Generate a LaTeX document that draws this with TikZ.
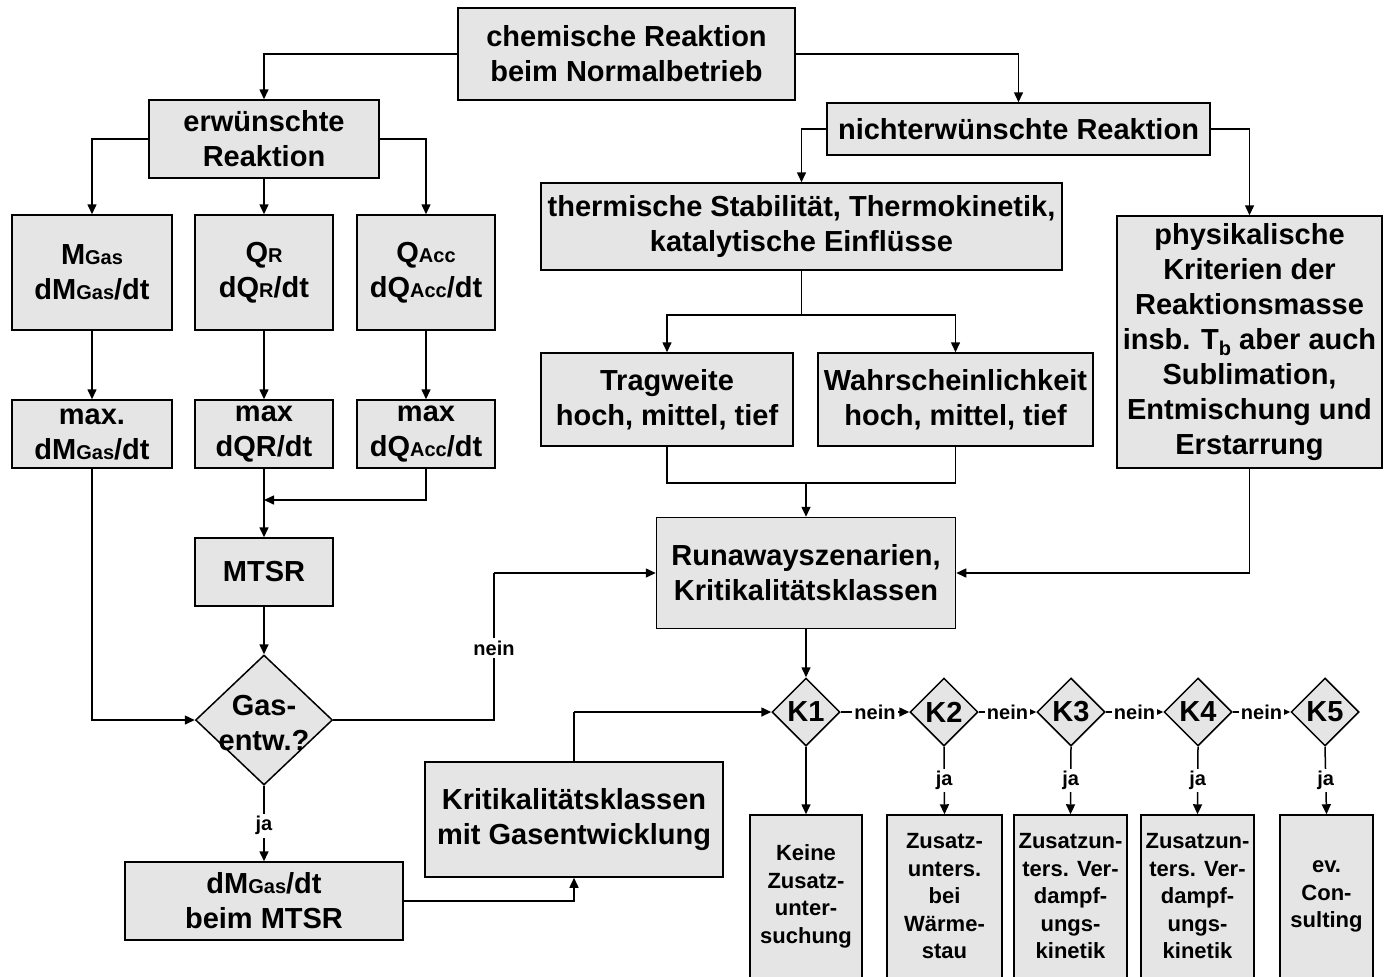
\documentclass[tikz,border=0pt]{standalone}
\usepackage{fontspec}
\setmainfont{Liberation Sans}
\usetikzlibrary{shapes.geometric,arrows.meta,calc}
\definecolor{boxgray}{RGB}{229,229,229}
\newcommand{\sm}[1]{{\fontsize{10}{12}\selectfont #1}}
\begin{document}
\begin{tikzpicture}[x=0.5pt,y=-0.5pt,
  wh/.style n args={2}{minimum width=#1*0.5pt,minimum height=#2*0.5pt},
  box/.style={draw=black,line width=0.75pt,fill=boxgray,align=center,inner sep=0pt,
    font=\bfseries\fontsize{14.5}{17.5}\selectfont},
  smallbox/.style={box,font=\bfseries\fontsize{11}{13.75}\selectfont},
  dia/.style={diamond,draw=black,line width=0.75pt,fill=boxgray,inner sep=0pt,align=center,
    font=\bfseries\fontsize{14.5}{17.5}\selectfont},
  txt/.style={align=center,inner sep=0pt,font=\bfseries\fontsize{14.5}{17.5}\selectfont},
  lbl/.style={fill=white,inner sep=1.2pt,font=\bfseries\fontsize{10}{11}\selectfont},
  conn/.style={line width=0.75pt},
  arr/.style={conn,-{Triangle[length=5pt,width=4.5pt]}}]
\useasboundingbox (0,0) rectangle (1390,976);

% nodes
\node[box,wh={337}{92}] (top) at (626.5,54) {chemische Reaktion\\beim Normalbetrieb};
\node[box,wh={230}{78}] (erw) at (264,139) {erwünschte\\Reaktion};
\node[box,wh={383}{52}] (nicht) at (1018.5,129) {nichterwünschte Reaktion};
\node[box,wh={160}{115}] (mg) at (92,272.5) {M\sm{Gas}\\dM\sm{Gas}/dt};
\node[box,wh={138}{115}] (qr) at (264,272.5) {Q\sm{R}\\dQ\sm{R}/dt};
\node[box,wh={138}{115}] (qa) at (426,272.5) {Q\sm{Acc}\\dQ\sm{Acc}/dt};
\node[box,wh={160}{68}] (mx1) at (92,434) {max.\\dM\sm{Gas}/dt};
\node[box,wh={138}{68}] (mx2) at (264,434) {max\\dQR/dt};
\node[box,wh={138}{68}] (mx3) at (426,434) {max\\dQ\sm{Acc}/dt};
\node[box,wh={138}{68}] (mtsr) at (264,572) {MTSR};
\node[dia,wh={137}{130}] (gas) at (264,720) {};
\node[txt] (gastxt) at (264,723) {Gas-\\entw.?};
\node[box,wh={278}{78}] (dmg) at (264,901) {dM\sm{Gas}/dt\\beim MTSR};
\node[box,wh={298}{115}] (krit) at (574,819.5) {Kritikalitätsklassen\\mit Gasentwicklung};
\node[box,wh={521}{87}] (therm) at (801.5,226.5) {thermische Stabilität, Thermokinetik,\\katalytische Einflüsse};
\node[box,wh={265}{252}] (phys) at (1249.5,342) {physikalische\\Kriterien der\\Reaktionsmasse\\insb. T\raisebox{-.4ex}{\sm{b}} aber auch\\Sublimation,\\Entmischung und\\Erstarrung};
\node[box,wh={252}{93}] (trag) at (667,399.5) {Tragweite\\hoch, mittel, tief};
\node[box,wh={275}{93}] (wahr) at (955.5,399.5) {Wahrscheinlichkeit\\hoch, mittel, tief};
\node[box,wh={299}{111}] (run) at (806,573) {Runawayszenarien,\\Kritikalitätsklassen};

\node[dia,wh={68}{68}] (k1) at (806,712) {K1};
\node[dia,wh={68}{68}] (k2) at (944,712) {K2};
\node[dia,wh={68}{68}] (k3) at (1071,712) {K3};
\node[dia,wh={68}{68}] (k4) at (1198,712) {K4};
\node[dia,wh={68}{68}] (k5) at (1325,712) {K5};

\node[smallbox,wh={112}{163}] (b1) at (806,896.5) {Keine\\Zusatz-\\unter-\\suchung};
\node[smallbox,wh={115}{163}] (b2) at (944.5,896.5) {Zusatz-\\unters.\\bei\\Wärme-\\stau};
\node[smallbox,wh={113}{163}] (b3) at (1070.5,896.5) {Zusatzun-\\ters. Ver-\\dampf-\\ungs-\\kinetik};
\node[smallbox,wh={113}{163}] (b4) at (1197.5,896.5) {Zusatzun-\\ters. Ver-\\dampf-\\ungs-\\kinetik};
\node[smallbox,wh={93}{163}] (b5) at (1326.5,896.5) {ev.\\Con-\\sulting};

% helper coordinates
\coordinate (j1) at (264,500);
\coordinate (n1) at (494,573);
\coordinate (s1) at (801.5,315);
\coordinate (m1) at (806,483);
\coordinate (c1) at (574,712);

% connectors
\draw[arr] (top.west) -| (erw.north);
\draw[arr] (top.east) -| (nicht.north);
\draw[arr] (erw.west) -| (mg.north);
\draw[arr] (erw.south) -- (qr.north);
\draw[arr] (erw.east) -| (qa.north);
\draw[arr] (mg.south) -- (mx1.north);
\draw[arr] (qr.south) -- (mx2.north);
\draw[arr] (qa.south) -- (mx3.north);
\draw[arr] (mx2.south) -- (mtsr.north);
\draw[arr] (mx3.south) |- (j1);
\draw[arr] (mtsr.south) -- (gas.north);
\draw[arr] (mx1.south) |- (gas.west);
\draw[conn] (gas.east) -| (n1);
\draw[arr] (n1) -- (run.west);
\node[lbl] at (494,648) {nein};
\draw[arr] (gas.south) -- node[lbl,pos=0.53] {ja} (dmg.north);
\draw[arr] (dmg.east) -| (krit.south);
\draw[conn] (krit.north) -- (c1);
\draw[arr] (c1) -- (k1.west);

\draw[arr] (nicht.west) -| (therm.north);
\draw[arr] (nicht.east) -| (phys.north);
\draw[conn] (therm.south) -- (s1);
\draw[arr] (s1) -| (trag.north);
\draw[arr] (s1) -| (wahr.north);
\draw[conn] (trag.south) |- (m1) -| (wahr.south);
\draw[arr] (m1) -- (run.north);
\draw[arr] (phys.south) |- (run.east);
\draw[arr] (run.south) -- (k1.north);

\draw[arr] (k1.east) -- node[lbl] {nein} (k2.west);
\draw[arr] (k2.east) -- node[lbl] {nein} (k3.west);
\draw[arr] (k3.east) -- node[lbl] {nein} (k4.west);
\draw[arr] (k4.east) -- node[lbl] {nein} (k5.west);
\draw[arr] (k1.south) -- (b1.north);
\draw[arr] (k2.south) -- node[lbl] {ja} (b2.north);
\draw[arr] (k3.south) -- node[lbl] {ja} (b3.north);
\draw[arr] (k4.south) -- node[lbl] {ja} (b4.north);
\draw[arr] (k5.south) -- node[lbl] {ja} (b5.north);
\end{tikzpicture}
\end{document}
